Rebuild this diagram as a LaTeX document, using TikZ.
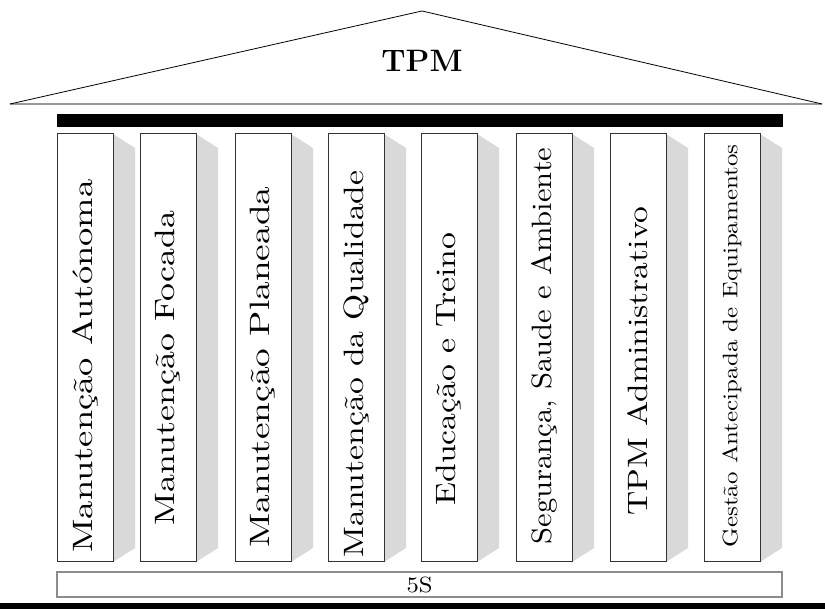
\documentclass[tikz,border=0pt]{standalone}
\usepackage{graphicx}
\usepackage{fontspec}
\usetikzlibrary{calc}

\newfontfamily\pilarfont{lmroman10-regular.otf}
% estica o texto ao comprimento dado, mantendo a altura
\newcommand{\estica}[2]{\resizebox{#1pt}{\height}{#2}}

\begin{document}
\begin{tikzpicture}[x=1pt,y=1pt,
  pilar/.style={draw=black!80, line width=1pt, fill=white, minimum width=56pt, minimum height=428pt, inner sep=0pt, anchor=south west},
  sombra/.style={fill=black!15},
  rotulo/.style={rotate=90, inner sep=0pt}]
\useasboundingbox (0,0) rectangle (825,609);
% telhado
\coordinate (beiralE) at (10,505);
\coordinate (topo) at (422,598);
\coordinate (beiralD) at (822,505);
\draw[black!40, line width=1.5pt] (beiralE) -- (beiralD);
\draw[line width=0.8pt] (beiralE) -- (topo) -- (beiralD);
\node[font=\fontsize{31}{31}\selectfont\bfseries] (tpm) at (422,548) {TPM};
% viga
\fill (57,482) rectangle (783,495);
% pilares com sombra
\foreach \x/\yc/\fs/\len/\txt [count=\i] in {57/243/28/373/Manutenção Autónoma, 140/241/28/314/Manutenção Focada,
    235/242/28/361/Manutenção Planeada, 328/245/28/387/Manutenção da Qualidade, 421/240/28/273/Educação e Treino,
    516/263/28/397/{Segurança, Saude e Ambiente}, 610/248/28/309/TPM Administrativo,
    704/263/21/403/Gestão Antecipada de Equipamentos} {
  \fill[sombra] (\x+56,475) -- (\x+78,461) -- (\x+78,61) -- (\x+56,47) -- cycle;
  \node[pilar] (p\i) at (\x,47) {};
  \node[rotulo, font=\pilarfont\fontsize{\fs}{\fs}\selectfont] (t\i) at (\x+28,\yc) {\estica{\len}{\txt}};
}
% base 5S
\node[draw=black!45, line width=1.5pt, minimum width=725pt, minimum height=25pt, inner sep=0pt,
  font=\pilarfont\fontsize{22}{22}\selectfont] (base) at (419.5,24.5) {\estica{26}{5S}};
\fill (0,0) rectangle (825,6);
\end{tikzpicture}
\end{document}
